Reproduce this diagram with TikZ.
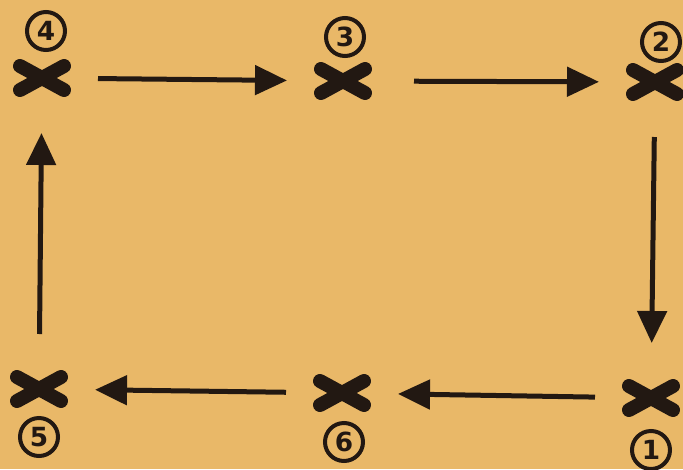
\documentclass[tikz,border=0pt]{standalone}
\usepackage{fontspec}
\setmainfont{DejaVu Sans}
\usetikzlibrary{arrows.meta}
\definecolor{paper}{RGB}{233,184,104}
\definecolor{ink}{RGB}{34,24,18}
\begin{document}
\begin{tikzpicture}[x=0.2mm, y=-0.2mm,
    >={Triangle[length=6.4mm, width=5.8mm]},
    spot/.style={minimum width=2.24cm, minimum height=2.2cm, inner sep=0pt, outer sep=0pt},
    num/.style={circle, draw=ink, line width=0.8mm, minimum size=7.6mm, inner sep=0pt,
      text=ink, font=\bfseries\fontsize{15}{15}\selectfont},
    xstroke/.style={draw=ink, line width=2.8mm, line cap=round},
    arr/.style={->, draw=ink, line width=1mm}]
  \fill[paper] (0,0) rectangle (683,469);
  \useasboundingbox (0,0) rectangle (683,469);
  % the six marks
  \node[spot] (p1) at (651,398) {};
  \node[spot] (p2) at (655,82) {};
  \node[spot] (p3) at (343,81) {};
  \node[spot] (p4) at (42,78) {};
  \node[spot] (p5) at (39,389) {};
  \node[spot] (p6) at (342,393) {};
  \foreach \n in {p1,p2,p3,p4,p5,p6} {
    \draw[xstroke] ([shift={(-22,-12)}]\n.center) -- ([shift={(22,12)}]\n.center);
    \draw[xstroke] ([shift={(-22,12)}]\n.center) -- ([shift={(22,-12)}]\n.center);
  }
  % circled numbers
  \node[num] (n1) at (651,450) {1};
  \node[num] (n2) at (661,42) {2};
  \node[num] (n3) at (345,37) {3};
  \node[num] (n4) at (46,31) {4};
  \node[num] (n5) at (39,437) {5};
  \node[num] (n6) at (344,442) {6};
  % the round
  \draw[arr] (p4) -- (p3);
  \draw[arr, shorten <=3mm] (p3) -- (p2);
  \draw[arr] (p2) -- (p1);
  \draw[arr] (p1) -- (p6);
  \draw[arr] (p6) -- (p5);
  \draw[arr] (p5) -- (p4);
\end{tikzpicture}
\end{document}
